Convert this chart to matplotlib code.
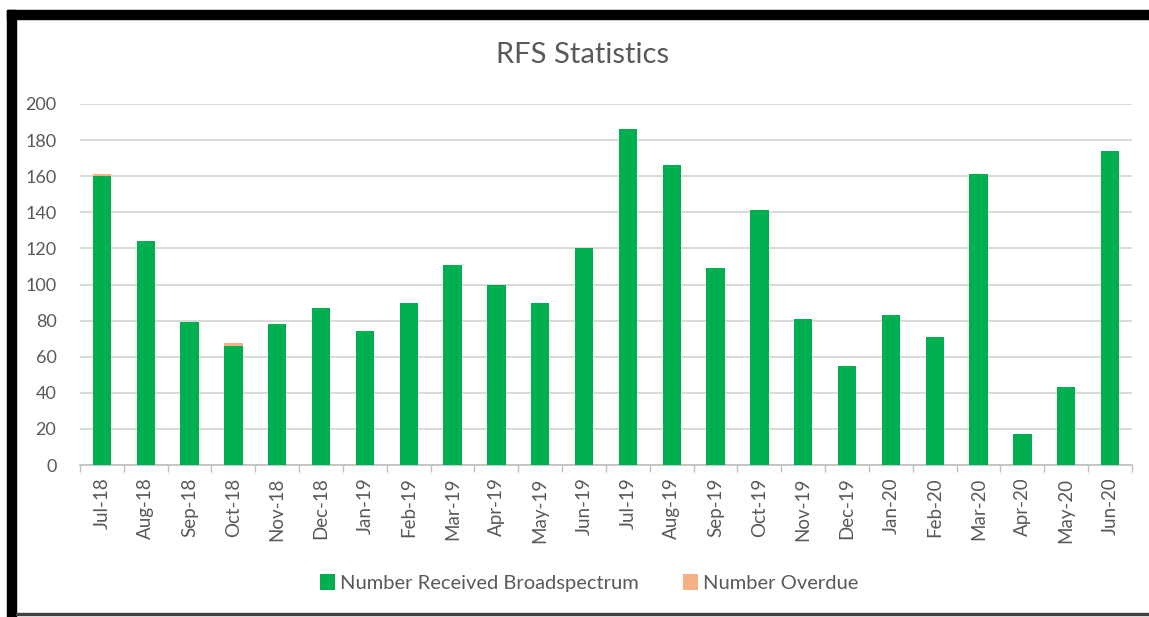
import numpy as np
import matplotlib
matplotlib.use("Agg")
import matplotlib.pyplot as plt
from matplotlib.patches import Rectangle

# monthly RFS figures
months = ["Jul-18", "Aug-18", "Sep-18", "Oct-18", "Nov-18", "Dec-18",
          "Jan-19", "Feb-19", "Mar-19", "Apr-19", "May-19", "Jun-19",
          "Jul-19", "Aug-19", "Sep-19", "Oct-19", "Nov-19", "Dec-19",
          "Jan-20", "Feb-20", "Mar-20", "Apr-20", "May-20", "Jun-20"]
received = [160, 124, 79, 66, 78, 87, 74, 90, 111, 100, 90, 120,
            186, 166, 109, 141, 81, 55, 83, 71, 161, 17, 43, 174]
overdue = [1, 0, 0, 1.5, 0, 0, 0, 0, 0, 0, 0, 0,
           0, 0, 0, 0, 0, 0, 0, 0, 0, 0, 0, 0]
y_ticks = [0, 20, 40, 60, 80, 100, 120, 140, 160, 180, 200]

GREEN = "#00B050"
ORANGE = "#F4B183"
TEXT = "#595959"
GRID = "#D9D9D9"

plt.rcParams["font.family"] = ["Lato", "DejaVu Sans"]

W, H = 1149, 617
fig = plt.figure(figsize=(W / 100, H / 100), dpi=100)
ax = fig.add_axes([80 / W, 1 - 465 / H, 1052 / W, 361 / H])

x = np.arange(len(months))
ax.bar(x, received, width=0.42, color=GREEN, label="Number Received Broadspectrum", zorder=3)
ax.bar(x, overdue, width=0.42, bottom=received, color=ORANGE, label="Number Overdue", zorder=3)

ax.set_xlim(-0.5, len(months) - 0.5)
ax.set_ylim(0, 200)
ax.set_yticks(y_ticks)
ax.set_yticklabels([str(v) for v in y_ticks], fontsize=13, color=TEXT)
ax.grid(axis="y", color=GRID, linewidth=1.4, zorder=0)
ax.tick_params(axis="y", length=0, pad=17)

# month labels centred, tick marks on category boundaries
ax.set_xticks(x)
ax.set_xticklabels(months, rotation=90, fontsize=13.5, color=TEXT)
ax.tick_params(axis="x", which="major", length=0, pad=9)
ax.set_xticks(np.arange(-0.5, len(months)), minor=True)
ax.tick_params(axis="x", which="minor", length=5, color="#BFBFBF", width=1)

for side in ("top", "right", "left"):
    ax.spines[side].set_visible(False)
ax.spines["bottom"].set_color("#BFBFBF")
ax.spines["bottom"].set_linewidth(1.2)

fig.text(583 / W, 1 - 55 / H, "RFS Statistics", ha="center", va="center",
         fontsize=21, color=TEXT)

fig.legend(loc="center", bbox_to_anchor=(589 / W, 1 - 583 / H), ncol=2,
           frameon=False, fontsize=14.5, labelcolor=TEXT, handlelength=0.75,
           handleheight=0.85, handletextpad=0.25, columnspacing=2.2)

# thick black frame on the left and top, thin line at the bottom
fig.patches.append(Rectangle((7 / W, 0), 9 / W, (H - 10) / H, transform=fig.transFigure,
                             color="black", zorder=10))
fig.patches.append(Rectangle((7 / W, 1 - 19 / H), (W - 7) / W, 9 / H, transform=fig.transFigure,
                             color="black", zorder=10))
fig.patches.append(Rectangle((16 / W, 2 / H), (W - 16) / W, 2 / H, transform=fig.transFigure,
                             color="#404040", zorder=10))

fig.savefig("out.png", dpi=100, facecolor="white")
